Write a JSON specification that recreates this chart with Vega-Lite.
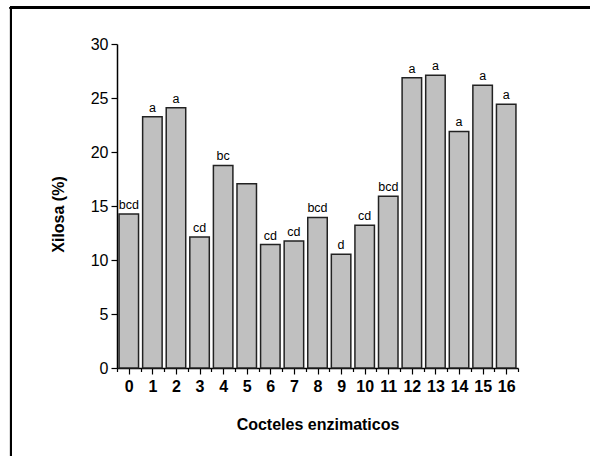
{
  "$schema": "https://vega.github.io/schema/vega-lite/v6.json",
  "width": 401,
  "height": 324,
  "autosize": {"type": "none"},
  "padding": {"left": 117, "top": 44, "right": 72, "bottom": 88},
  "background": "white",
  "config": {
    "view": {"stroke": null},
    "font": "Liberation Sans",
    "axis": {
      "domainColor": "black",
      "domainWidth": 1.5,
      "tickColor": "black",
      "tickWidth": 1.2,
      "labelColor": "black",
      "titleColor": "black",
      "labelFlush": false,
      "grid": false
    }
  },
  "data": {
    "values": [
      {"coctel": 0, "xilosa": 14.27, "grupo": "bcd"},
      {"coctel": 1, "xilosa": 23.26, "grupo": "a"},
      {"coctel": 2, "xilosa": 24.10, "grupo": "a"},
      {"coctel": 3, "xilosa": 12.14, "grupo": "cd"},
      {"coctel": 4, "xilosa": 18.76, "grupo": "bc"},
      {"coctel": 5, "xilosa": 17.05, "grupo": ""},
      {"coctel": 6, "xilosa": 11.43, "grupo": "cd"},
      {"coctel": 7, "xilosa": 11.77, "grupo": "cd"},
      {"coctel": 8, "xilosa": 13.94, "grupo": "bcd"},
      {"coctel": 9, "xilosa": 10.54, "grupo": "d"},
      {"coctel": 10, "xilosa": 13.22, "grupo": "cd"},
      {"coctel": 11, "xilosa": 15.91, "grupo": "bcd"},
      {"coctel": 12, "xilosa": 26.88, "grupo": "a"},
      {"coctel": 13, "xilosa": 27.10, "grupo": "a"},
      {"coctel": 14, "xilosa": 21.90, "grupo": "a"},
      {"coctel": 15, "xilosa": 26.17, "grupo": "a"},
      {"coctel": 16, "xilosa": 24.41, "grupo": "a"}
    ]
  },
  "resolve": {"axis": {"x": "independent"}},
  "layer": [
    {
      "mark": {"type": "bar", "width": 19.5, "fill": "#c0c0c0", "stroke": "#222222", "strokeWidth": 1.5},
      "encoding": {
        "x": {
          "field": "coctel",
          "type": "quantitative",
          "scale": {"domain": [-0.5, 16.5], "nice": false, "zero": false, "padding": 0},
          "axis": {
            "orient": "bottom",
            "title": "Cocteles enzimaticos",
            "titleFontSize": 16,
            "titleFontWeight": "bold",
            "titlePadding": 22,
            "values": [0, 1, 2, 3, 4, 5, 6, 7, 8, 9, 10, 11, 12, 13, 14, 15, 16],
            "format": "d",
            "labelFontSize": 16,
            "labelFontWeight": "bold",
            "labelPadding": 4,
            "labelOverlap": false,
            "tickSize": 6
          }
        },
        "y": {
          "field": "xilosa",
          "type": "quantitative",
          "scale": {"domain": [0, 30], "nice": false},
          "axis": {
            "title": "Xilosa (%)",
            "titleFontSize": 16,
            "titleFontWeight": "bold",
            "titlePadding": 24,
            "titleY": 170,
            "values": [0, 2.5, 5, 7.5, 10, 12.5, 15, 17.5, 20, 22.5, 25, 27.5, 30],
            "labelExpr": "datum.value % 5 !== 0 ? '' : datum.label",
            "labelFontSize": 16,
            "labelPadding": 3,
            "labelOverlap": false,
            "tickSize": {"condition": {"test": "datum.value % 5 !== 0", "value": 3.5}, "value": 6}
          }
        }
      }
    },
    {
      "mark": {"type": "text", "baseline": "bottom", "dy": -2, "fontSize": 12.5, "color": "black"},
      "encoding": {
        "x": {
          "field": "coctel",
          "type": "quantitative",
          "scale": {"domain": [-0.5, 16.5], "nice": false, "zero": false, "padding": 0},
          "axis": {
            "orient": "bottom",
            "title": null,
            "values": [-0.5, 0.5, 1.5, 2.5, 3.5, 4.5, 5.5, 6.5, 7.5, 8.5, 9.5, 10.5, 11.5, 12.5, 13.5, 14.5, 15.5, 16.5],
            "labels": false,
            "domain": false,
            "tickSize": 3.5
          }
        },
        "y": {"field": "xilosa", "type": "quantitative", "scale": {"domain": [0, 30], "nice": false}},
        "text": {"field": "grupo"}
      }
    },
    {
      "mark": {"type": "rule", "color": "black", "strokeWidth": 2, "clip": false},
      "encoding": {
        "x": {"datum": -4.994, "type": "quantitative", "scale": {"domain": [-0.5, 16.5], "nice": false, "zero": false, "padding": 0}, "axis": null},
        "y": {"datum": 33.45, "type": "quantitative", "scale": {"domain": [0, 30], "nice": false}},
        "y2": {"datum": -12}
      }
    },
    {
      "mark": {"type": "rule", "color": "black", "strokeWidth": 2, "clip": false},
      "encoding": {
        "x": {"datum": -5.04, "type": "quantitative", "scale": {"domain": [-0.5, 16.5], "nice": false, "zero": false, "padding": 0}, "axis": null},
        "x2": {"datum": 25},
        "y": {"datum": 33.36, "type": "quantitative", "scale": {"domain": [0, 30], "nice": false}}
      }
    }
  ]
}
